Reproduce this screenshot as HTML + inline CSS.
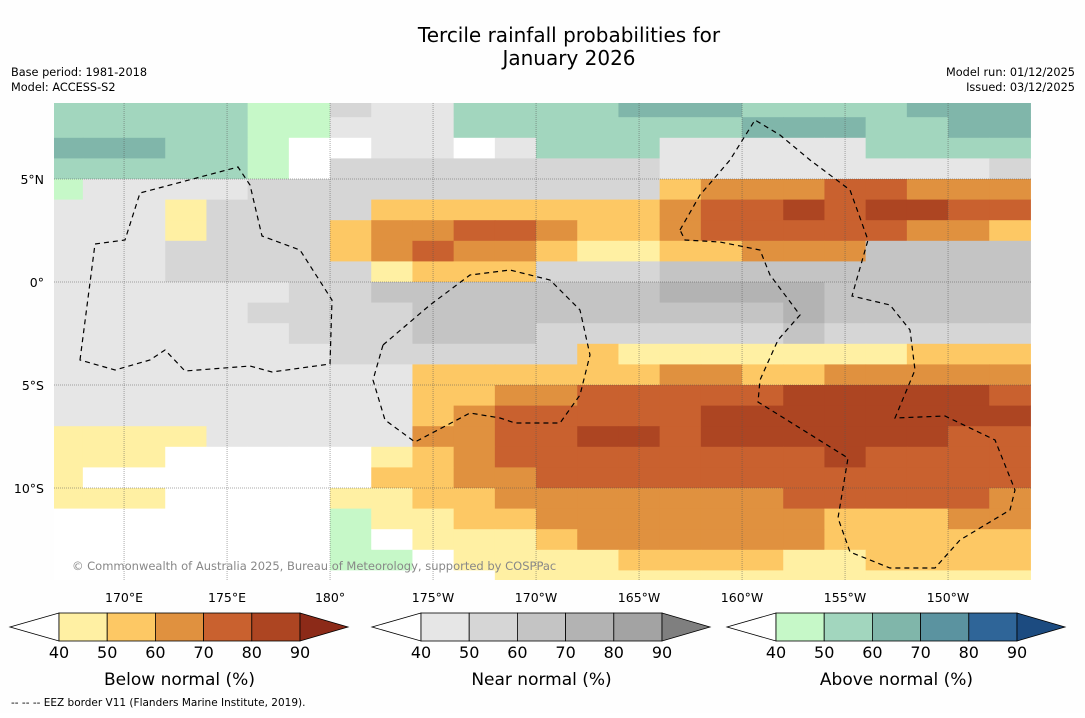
<!DOCTYPE html>
<html><head><meta charset="utf-8">
<style>
body{margin:0;background:#fff;font-family:"Liberation Sans",sans-serif;}
svg text{font-family:"DejaVu Sans","Liberation Sans",sans-serif;}
</style></head>
<body>
<svg id="chart" width="1085" height="713" viewBox="0 0 1085 713" xmlns="http://www.w3.org/2000/svg">
<rect width="1085" height="713" fill="#fefefe"/>
<text x="569" y="42" font-size="20" text-anchor="middle">Tercile rainfall probabilities for</text>
<text x="569" y="65" font-size="20" text-anchor="middle">January 2026</text>
<text x="11" y="76" font-size="11.3">Base period: 1981-2018</text>
<text x="11" y="91" font-size="11.3">Model: ACCESS-S2</text>
<text x="1075" y="76" font-size="11.3" text-anchor="end">Model run: 01/12/2025</text>
<text x="1075" y="91" font-size="11.3" text-anchor="end">Issued: 03/12/2025</text>
<defs><clipPath id="mapclip"><rect x="54" y="103" width="977" height="477"/></clipPath></defs>
<g id="map" clip-path="url(#mapclip)">
<rect x="54" y="103" width="977" height="477" fill="#fff"/>
<g id="cells"></g>
<g id="grid"></g>
<g id="eez"></g>
</g>
<text x="72" y="570" font-size="11.5" fill="#888">© Commonwealth of Australia 2025, Bureau of Meteorology, supported by COSPPac</text>
<g id="axes"></g>
<g id="bars"></g>
<text x="11" y="706" font-size="10.5">--  --  -- EEZ border V11 (Flanders Marine Institute, 2019).</text>
</svg>
<script>
// Grid data: rows from lat 9N downward (1 deg), columns from 166E eastward (2 deg)
const latTop = [9,8,7,6,5,4,3,2,1,0,-1,-2,-3,-4,-5,-6,-7,-8,-9,-10,-11,-12,-13,-14];
const lonStart = [166,168,170,172,174,176,178,180,182,184,186,188,190,192,194,196,198,200,202,204,206,208,210,212];
const gridRows = [
"hhhhhgg211hhhhiiihhhhiii",
"hhhhhgg111hhhhhhhiiihhii",
"iiihhg..11.1hhh11111hhhh",
"hhhhhg.22222222111111112",
"g11112222222222BCCCDDCCC",
"111A2222BBBBBBBCDDEDEEDD",
"111A222BCCDDCBBCDDDDDCCB",
"1112222BCDCCBAABBCCC3333",
"11122222ABBB222333333333",
"111111223333333444433333",
"111112222333333333433333",
"111111222333222222322222",
"1111111222222BAAAAAAABBB",
"111111111BBBBBBCCBBCCCCC",
"111111111BBCCDDDDDEEEEED",
"111111111BCDDDDDEEEEEEEE",
"AAAA11111CCDDEEDEEEEEEDD",
"AAA.....ABCDDDDDDDDEDDDD",
"A.......BBCCDDDDDDDDDDDD",
"AAA....AABBCCCCCCCDDDDDC",
".......gAABBCCCCCCCBBBCC",
".......g.AAABCCCCCCBBBBB",
".......gg.AAAABBBBAABBBB",
"...........AAAAAAAAAAAAA"];
const belowColors = ["#fff0a3","#fdc864","#e0913f","#c9612f","#ad4522","#8c2a18"];
const nearColors = ["#e6e6e6","#d6d6d6","#c4c4c4","#b3b3b3","#a3a3a3","#7f7f7f"];
const aboveColors = ["#c6f8c8","#a2d6be","#80b6aa","#5b93a0","#2f6598","#1c4b80"];
const lonTicks = [170,175,180,185,190,195,200,205,210];
const lonTickLabels = ["170°E","175°E","180°","175°W","170°W","165°W","160°W","155°W","150°W"];
const latTicks = [5,0,-5,-10];
const latTickLabels = ["5°N","0°","5°S","10°S"];
const barTicks = ["40","50","60","70","80","90"];

const NS="http://www.w3.org/2000/svg";
const xOf = lon => 54 + (lon-166.6)*20.6;
const yOf = lat => 282 - lat*20.6;
function colorOf(c){
  if(c==='.') return "#ffffff";
  const bi="ABCDE".indexOf(c); if(bi>=0) return belowColors[bi];
  const ni="12345".indexOf(c); if(ni>=0) return nearColors[ni];
  const ai="ghij".indexOf(c); if(ai>=0) return aboveColors[ai];
  return "#fff";
}
function mk(tag,attrs,parent){const e=document.createElementNS(NS,tag);for(const k in attrs)e.setAttribute(k,attrs[k]);parent.appendChild(e);return e;}
const cells=document.getElementById('cells');
gridRows.forEach((row,ri)=>{
  for(let ci=0;ci<lonStart.length;ci++){
    const x0=xOf(lonStart[ci]), x1=xOf(lonStart[ci]+2), y0=yOf(latTop[ri]), y1=yOf(latTop[ri]-1);
    const r=mk('rect',{x:x0,y:y0,width:x1-x0+0.5,height:y1-y0+0.5,fill:colorOf(row[ci])},cells);
    
    
  }
});
const grid=document.getElementById('grid');
lonTicks.forEach(l=>{const g=mk('line',{x1:xOf(l),x2:xOf(l),y1:103,y2:580,stroke:"#555","stroke-width":0.5,"stroke-dasharray":"1,1"},grid);});
latTicks.forEach(l=>{const g=mk('line',{x1:54,x2:1031,y1:yOf(l),y2:yOf(l),stroke:"#555","stroke-width":0.5,"stroke-dasharray":"1,1"},grid);});
const eez=document.getElementById('eez');
const eezPaths=["M80,360 L95,244 L125,240 L140,193 L238,167 L250,185 L262,236 L300,250 L332,300 L330,364 L272,372 L250,366 L185,371 L165,350 L150,360 L115,370 Z",
"M383,345 L430,305 L470,275 L510,270 L550,280 L580,310 L590,355 L580,395 L560,423 L515,423 L500,418 L470,413 L415,442 L385,420 L373,380 Z",
"M680,230 L700,195 L730,160 L755,120 L780,135 L810,160 L850,190 L868,240 L852,296 L890,305 L910,330 L915,370 L895,418 L945,416 L995,440 L1015,490 L1010,510 L960,540 L935,568 L890,568 L850,552 L838,518 L848,458 L758,402 L760,380 L778,340 L800,315 L770,275 L760,250 L720,242 L685,240 Z"];
eezPaths.forEach(d=>{const p=mk('path',{d:d,fill:"none",stroke:"#000","stroke-width":1.2,"stroke-dasharray":"5,4"},eez);});
const axes=document.getElementById('axes');
lonTicks.forEach((l,i)=>{const t=mk('text',{x:xOf(l),y:602,"font-size":12.5,"text-anchor":"middle"},axes);t.textContent=lonTickLabels[i];});
latTicks.forEach((l,i)=>{const t=mk('text',{x:44,y:yOf(l)+5,"font-size":12.5,"text-anchor":"end"},axes);t.textContent=latTickLabels[i];});
const bars=document.getElementById('bars');
function colorbar(x0,cols,title,name){
  const g=mk('g',{},bars);
  
  
  const y0=613,h=28,w=48.2,bx=x0+49;
  mk('polygon',{points:`${bx},${y0} ${x0},${y0+h/2} ${bx},${y0+h}`,fill:"#fff",stroke:"#000","stroke-width":0.8},g);
  for(let i=0;i<5;i++) mk('rect',{x:bx+i*w,y:y0,width:w,height:h,fill:cols[i],stroke:"#000","stroke-width":0.8},g);
  const ex=bx+5*w;
  mk('polygon',{points:`${ex},${y0} ${ex+48},${y0+h/2} ${ex},${y0+h}`,fill:cols[5],stroke:"#000","stroke-width":0.8},g);
  barTicks.forEach((t,i)=>{const tx=mk('text',{x:bx+i*w,y:658,"font-size":16,"text-anchor":"middle"},g);tx.textContent=t;});
  const tt=mk('text',{x:bx+2.5*w,y:685,"font-size":17,"text-anchor":"middle"},g);tt.textContent=title;
}
colorbar(10,belowColors,"Below normal (%)","below-normal-colorbar");
colorbar(372,nearColors,"Near normal (%)","near-normal-colorbar");
colorbar(727,aboveColors,"Above normal (%)","above-normal-colorbar");
</script>
</body></html>
